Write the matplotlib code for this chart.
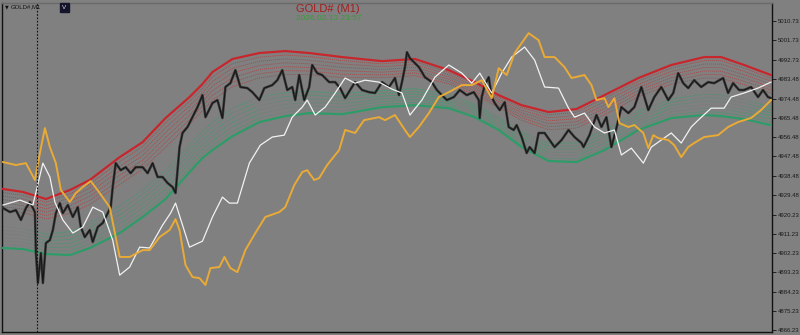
import matplotlib
matplotlib.use("Agg")
import matplotlib.pyplot as plt
import numpy as np

# ---------------- data (bar index = minute bars, price in USD) ----------------
band_x = [0, 20, 43, 67, 87, 117, 140, 163, 187, 200, 210, 230, 257, 283, 307, 340,
          380, 413, 447, 473, 497, 520, 547, 575, 603, 637, 670, 703, 720, 743, 770]
upper_band = [4932.2, 4930.8, 4927.5, 4931.7, 4936.4, 4947.1, 4954.1, 4965.4, 4975.2,
              4981.3, 4986.9, 4993.0, 4995.8, 4996.7, 4995.8, 4993.9, 4992.0, 4993.0,
              4987.8, 4982.2, 4976.1, 4971.4, 4968.2, 4969.6, 4976.1, 4984.1, 4990.2,
              4993.9, 4993.9, 4990.2, 4985.5]
lower_band = [4904.6, 4904.1, 4901.8, 4901.3, 4904.6, 4911.6, 4919.1, 4927.5, 4940.1,
              4946.7, 4950.4, 4956.9, 4963.5, 4966.3, 4967.7, 4967.2, 4970.5, 4971.4,
              4970.0, 4965.8, 4959.8, 4951.8, 4945.3, 4944.8, 4950.4, 4959.8, 4965.4,
              4966.8, 4966.3, 4964.9, 4962.1]

price_x = [0, 7, 13, 18, 23, 27, 32, 33, 35, 38, 40, 43, 47, 50, 53, 57, 60, 65, 70, 75,
           78, 82, 87, 90, 95, 100, 105, 108, 110, 113, 118, 123, 128, 133, 140, 145, 150,
           155, 160, 165, 170, 173, 175, 177, 180, 185, 190, 195, 200, 203, 210, 215, 220,
           223, 228, 233, 238, 245, 250, 257, 262, 270, 275, 280, 285, 290, 293, 297, 302,
           307, 310, 315, 320, 327, 333, 338, 343, 348, 353, 360, 367, 373, 380, 387, 393,
           397, 400, 403, 405, 408, 413, 417, 423, 430, 435, 440, 445, 452, 458, 465, 472,
           477, 478, 480, 483, 487, 490, 493, 498, 503, 507, 512, 515, 520, 525, 528, 533,
           537, 543, 548, 553, 560, 567, 573, 580, 582, 588, 595, 600, 605, 610, 615, 620,
           627, 633, 640, 647, 653, 660, 667, 672, 677, 682, 687, 693, 700, 707, 713, 722,
           727, 732, 738, 743, 750, 757, 762, 767, 770]
price_close = [4923.3, 4921.4, 4922.3, 4917.7, 4923.3, 4926.1, 4921.4, 4902.2, 4888.2,
               4902.2, 4888.2, 4906.9, 4908.3, 4913.0, 4920.9, 4925.6, 4920.9, 4924.7,
               4919.1, 4923.7, 4914.4, 4909.7, 4913.0, 4907.4, 4914.4, 4916.3, 4920.9,
               4923.7, 4933.1, 4944.3, 4941.0, 4942.4, 4939.6, 4942.4, 4942.4, 4939.6,
               4944.3, 4937.8, 4937.8, 4935.0, 4933.1, 4930.3, 4941.0, 4951.8, 4958.4,
               4961.2, 4965.8, 4970.5, 4976.1, 4965.8, 4972.4, 4973.8, 4965.4, 4979.9,
               4981.7, 4987.8, 4979.9, 4979.4, 4977.5, 4973.8, 4979.4, 4980.8, 4983.1,
               4987.8, 4978.5, 4979.9, 4973.8, 4985.5, 4973.8, 4979.9, 4990.2, 4986.4,
               4985.5, 4982.2, 4982.2, 4979.4, 4974.7, 4978.5, 4982.2, 4978.5, 4977.5,
               4977.1, 4982.2, 4979.9, 4984.1, 4976.1, 4982.2, 4989.2, 4996.2, 4993.4,
               4991.1, 4989.2, 4984.5, 4982.2, 4978.5, 4976.1, 4973.8, 4975.2, 4978.5,
               4976.1, 4977.5, 4973.8, 4965.4, 4975.2, 4980.8, 4984.5, 4975.2, 4972.4,
               4969.1, 4972.8, 4961.2, 4959.8, 4962.1, 4956.5, 4949.0, 4951.8, 4949.0,
               4958.4, 4958.4, 4955.1, 4951.8, 4955.1, 4959.8, 4956.5, 4953.7, 4951.8,
               4957.4, 4966.8, 4961.2, 4965.8, 4951.8, 4960.7, 4970.5, 4967.7, 4970.5,
               4979.9, 4969.1, 4975.2, 4979.9, 4973.8, 4977.1, 4986.4, 4981.7, 4979.4,
               4983.1, 4979.9, 4982.2, 4981.7, 4984.1, 4977.1, 4981.7, 4978.5, 4978.5,
               4979.9, 4975.2, 4978.5, 4975.2, 4974.7]

white_x = [0, 17, 30, 40, 47, 52, 60, 70, 80, 90, 100, 110, 117, 127, 137, 147, 160, 168,
           173, 180, 187, 200, 210, 220, 227, 235, 247, 258, 270, 282, 290, 300, 305, 313,
           323, 333, 343, 353, 363, 377, 390, 400, 408, 420, 433, 447, 460, 470, 478, 490,
           500, 510, 523, 533, 543, 557, 567, 573, 583, 593, 603, 613, 620, 630, 642, 650,
           660, 670, 680, 690, 697, 710, 723, 730, 743, 757, 770]
white_y = [4924.7, 4927.0, 4924.7, 4944.3, 4937.8, 4926.1, 4917.7, 4911.6, 4914.4, 4923.7,
           4921.4, 4908.3, 4891.9, 4895.7, 4905.0, 4904.6, 4915.3, 4920.9, 4925.6, 4915.3,
           4905.0, 4907.8, 4919.1, 4928.4, 4925.6, 4925.6, 4944.3, 4952.7, 4956.5, 4957.4,
           4965.8, 4970.5, 4973.8, 4966.8, 4970.5, 4977.1, 4984.1, 4981.7, 4983.1, 4982.2,
           4978.9, 4977.1, 4966.8, 4973.8, 4984.5, 4990.2, 4986.4, 4981.7, 4986.4, 4977.1,
           4986.4, 4993.9, 4998.6, 4992.5, 4979.9, 4979.4, 4970.0, 4965.8, 4967.7, 4961.2,
           4958.4, 4959.8, 4948.1, 4951.3, 4944.3, 4951.8, 4955.1, 4958.4, 4953.7, 4961.2,
           4964.4, 4970.0, 4970.0, 4975.2, 4977.1, 4979.4, 4982.2]

orange_x = [0, 13, 23, 32, 37, 42, 47, 53, 58, 67, 73, 80, 88, 97, 107, 113, 117, 127, 140,
            147, 157, 167, 173, 177, 183, 190, 197, 203, 208, 217, 222, 228, 235, 243, 253,
            263, 277, 283, 292, 300, 305, 312, 317, 325, 337, 343, 353, 362, 377, 383, 393,
            403, 408, 417, 427, 437, 447, 460, 470, 480, 490, 497, 505, 513, 527, 537, 543,
            553, 563, 570, 583, 590, 595, 603, 607, 613, 618, 627, 633, 642, 647, 652, 657,
            667, 673, 680, 687, 693, 703, 717, 727, 737, 750, 760, 770]
orange_y = [4944.8, 4943.4, 4944.3, 4936.4, 4949.0, 4960.7, 4951.8, 4944.3, 4931.7, 4926.1,
            4930.3, 4933.1, 4935.9, 4930.3, 4923.7, 4909.7, 4900.4, 4900.4, 4903.6, 4903.6,
            4909.7, 4913.0, 4918.1, 4913.0, 4896.6, 4891.0, 4890.5, 4887.3, 4895.2, 4895.7,
            4900.4, 4895.2, 4893.3, 4903.6, 4911.6, 4919.1, 4921.4, 4923.7, 4934.0, 4940.1,
            4941.0, 4936.4, 4937.3, 4943.4, 4950.4, 4959.8, 4958.4, 4964.4, 4965.8, 4964.4,
            4966.8, 4959.8, 4956.5, 4961.2, 4967.7, 4975.2, 4977.5, 4980.8, 4980.8, 4983.1,
            4974.7, 4988.7, 4985.5, 4995.8, 5005.1, 5001.8, 4993.9, 4993.9, 4989.2, 4984.1,
            4985.5, 4980.8, 4973.8, 4974.7, 4970.5, 4974.7, 4963.0, 4961.2, 4962.1, 4958.4,
            4951.3, 4957.4, 4956.0, 4955.1, 4952.7, 4947.1, 4951.8, 4953.7, 4956.5, 4957.4,
            4961.2, 4963.5, 4965.4, 4969.1, 4973.8]

tick_values = [5010.73, 5001.73, 4992.73, 4983.48, 4974.48, 4965.48, 4956.48, 4947.48,
               4938.48, 4929.48, 4920.23, 4911.23, 4902.23, 4893.23, 4884.23, 4875.23, 4866.23]
band_fractions = [0.06, 0.12, 0.18, 0.24, 0.30, 0.36]
cursor_bar = 34
symbol = "GOLD#"
timeframe = "M1"
timestamp = "2026.02.13 23:57"

# ---------------- figure ----------------
BG = "#808080"
W, H = 800, 335
fig = plt.figure(figsize=(W / 100, H / 100), dpi=100, facecolor=BG)
ax = fig.add_axes([2 / W, 3 / H, 770 / W, 329 / H], facecolor=BG)

bx = np.array(band_x)
ub = np.array(upper_band)
lb = np.array(lower_band)
width = ub - lb
for f in band_fractions:
    ax.plot(bx, ub - f * width, color="#b53c3c", lw=0.6, ls=(0, (1.2, 1.2)), alpha=0.9, zorder=2)
    ax.plot(bx, lb + f * width, color="#3c9a6c", lw=0.6, ls=(0, (1.2, 1.2)), alpha=0.9, zorder=2)
ax.plot(bx, ub, color="#c8262c", lw=1.6, zorder=3)
ax.plot(bx, lb, color="#2e9c68", lw=1.6, zorder=3)

ax.plot(price_x, price_close, color="#383838", lw=1.8, zorder=4)
ax.plot(price_x, price_close, color="#151515", lw=0.7, zorder=4)
ax.plot(white_x, white_y, color="#f2f2f2", lw=0.9, zorder=5)
ax.plot(orange_x, orange_y, color="#e9aa36", lw=1.4, zorder=5)

ax.axvline(cursor_bar, color="#111111", lw=0.8, ls=(0, (1.5, 1.5)), zorder=6)

ax.set_xlim(-1, 771)
ax.set_ylim(4865.3, 5019.2)
ax.set_xticks([])
ax.yaxis.tick_right()
ax.set_yticks(tick_values)
ax.set_yticklabels([f"{v:.2f}" for v in tick_values], family="Liberation Sans")
ax.tick_params(axis="y", direction="out", length=3, width=0.6, pad=1.5,
               labelsize=4.3, colors="#111111", labelcolor="#1a1a1a")
for name, sp in ax.spines.items():
    sp.set_color("#111111")
    sp.set_linewidth(1.0)
ax.spines["top"].set_color("#6a6a6a")

# ---------------- texts ----------------
fig.text(328 / W, 1 - 8.5 / H, f"{symbol} ({timeframe})", ha="center", va="center",
         fontsize=8, color="#a81c1c", family="Liberation Sans")
fig.text(329 / W, 1 - 18 / H, timestamp, ha="center", va="center",
         fontsize=6, color="#3c9a3c", family="Liberation Sans")
fig.text(5 / W, 1 - 7 / H, "▼", ha="left", va="center", fontsize=3.5, color="#111111",
         family="DejaVu Sans")
fig.text(11 / W, 1 - 7 / H, f"{symbol},{timeframe}", ha="left", va="center", fontsize=4.3,
         color="#111111", family="Liberation Sans")
fig.text(64.5 / W, 1 - 7.5 / H, "V", ha="center", va="center", fontsize=4.5, color="#e0e0e0",
         family="Liberation Sans",
         bbox=dict(boxstyle="square,pad=0.35", fc="#14142a", ec="#14142a"))

fig.savefig("out.png", dpi=100, facecolor=BG)
